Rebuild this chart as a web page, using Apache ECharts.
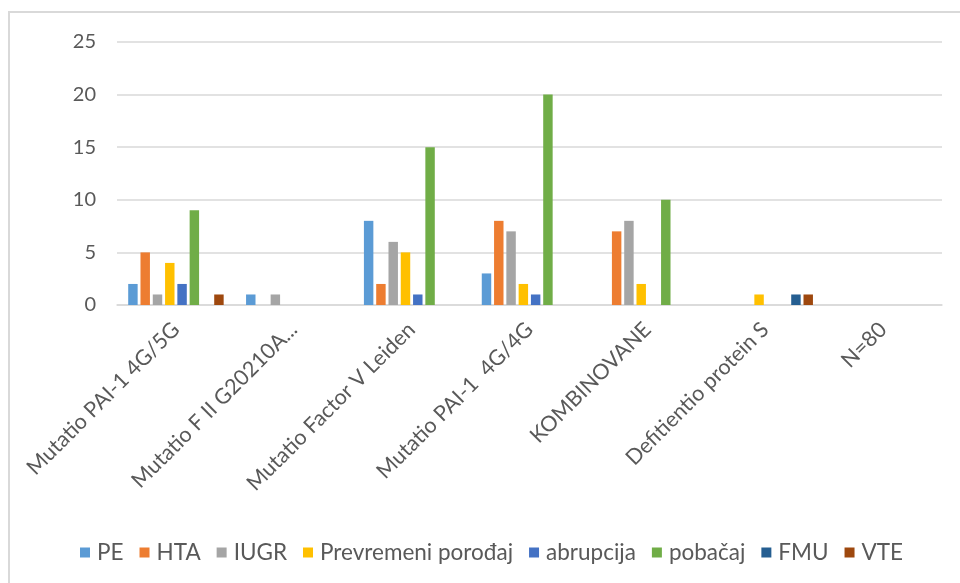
<!DOCTYPE html>
<html>
<head>
<meta charset="utf-8">
<script src="https://cdn.jsdelivr.net/npm/echarts@6/dist/echarts.min.js"></script>
<style>
  html, body { margin: 0; padding: 0; background: #fff; }
  #chart { width: 960px; height: 583px; }
</style>
</head>
<body>
<div id="chart"></div>
<script>
// Categories (thrombophilia groups)
const categories = [
  'Mutatio PAI-1 4G/5G',
  'Mutatio F II G20210A...',
  'Mutatio Factor V Leiden',
  'Mutatio PAI-1  4G/4G',
  'KOMBINOVANE',
  'Defitientio protein S',
  'N=80'
];

// Outcome counts per category
const PE         = [2, 1, 8, 3, 0, 0, 0];
const HTA        = [5, 0, 2, 8, 7, 0, 0];
const IUGR       = [1, 1, 6, 7, 8, 0, 0];
const prevremeni = [4, 0, 5, 2, 2, 1, 0];
const abrupcija  = [2, 0, 1, 1, 0, 0, 0];
const pobacaj    = [9, 0, 15, 20, 10, 0, 0];
const FMU        = [0, 0, 0, 0, 0, 1, 0];
const VTE        = [1, 0, 0, 0, 0, 1, 0];

const yTicks = [0, 5, 10, 15, 20, 25];

const seriesDefs = [
  { name: 'PE', data: PE, color: '#5B9BD5' },
  { name: 'HTA', data: HTA, color: '#ED7D31' },
  { name: 'IUGR', data: IUGR, color: '#A5A5A5' },
  { name: 'Prevremeni porođaj', data: prevremeni, color: '#FFC000' },
  { name: 'abrupcija', data: abrupcija, color: '#4472C4' },
  { name: 'pobačaj', data: pobacaj, color: '#70AD47' },
  { name: 'FMU', data: FMU, color: '#255E91' },
  { name: 'VTE', data: VTE, color: '#9E480E' }
];

const FONT = 'Lato, "Liberation Sans", sans-serif';
const chart = echarts.init(document.getElementById('chart'), null, { renderer: 'canvas' });

chart.setOption({
  animation: false,
  backgroundColor: '#ffffff',
  textStyle: { fontFamily: FONT },
  graphic: [{
    type: 'rect',
    shape: { x: 9, y: 12, width: 970, height: 600 },
    style: { fill: 'none', stroke: '#d9d9d9', lineWidth: 2 },
    silent: true
  }],
  grid: { left: 117, right: 18, top: 42, bottom: 278, containLabel: false },
  legend: {
    data: seriesDefs.map(s => s.name),
    top: 536,
    left: 75,
    icon: 'rect',
    itemWidth: 10,
    itemHeight: 10,
    itemGap: 16,
    textStyle: { fontFamily: FONT, fontSize: 22.5, color: '#595959', padding: [0, 0, 0, 2] }
  },
  xAxis: {
    type: 'category',
    data: categories,
    axisLine: { show: true, lineStyle: { color: '#d9d9d9', width: 1.5 } },
    axisTick: { show: false },
    axisLabel: {
      interval: 0,
      rotate: 45,
      margin: 21,
      fontFamily: FONT,
      fontSize: 21.5,
      color: '#595959'
    }
  },
  yAxis: {
    type: 'value',
    min: yTicks[0],
    max: yTicks[yTicks.length - 1],
    interval: 5,
    axisLine: { show: false },
    axisTick: { show: false },
    splitLine: { lineStyle: { color: '#d9d9d9', width: 1.5 } },
    axisLabel: { margin: 21, fontFamily: FONT, fontSize: 20, color: '#595959' }
  },
  series: seriesDefs.map(s => ({
    name: s.name,
    type: 'bar',
    data: s.data,
    barGap: '30%',
    barCategoryGap: '19%',
    itemStyle: { color: s.color }
  }))
});
</script>
</body>
</html>
